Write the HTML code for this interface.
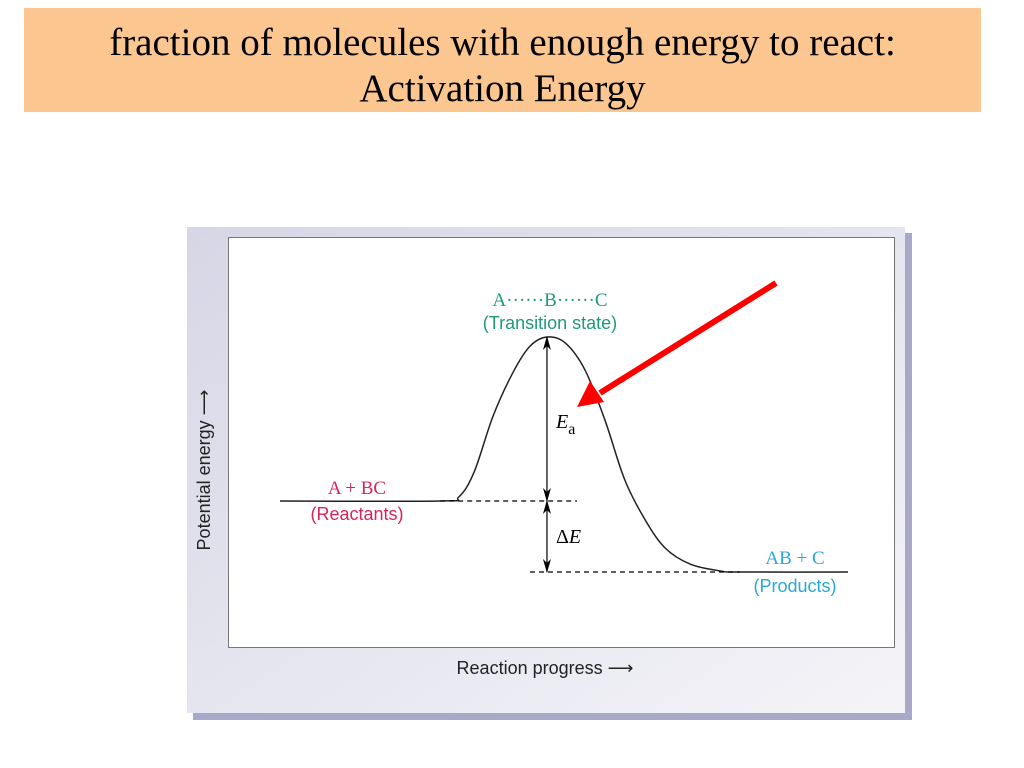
<!DOCTYPE html>
<html><head><meta charset="utf-8"><style>
body{margin:0;width:1024px;height:768px;background:#fff;position:relative;overflow:hidden;font-family:"Liberation Sans",sans-serif}
#title{position:absolute;left:24px;top:8px;width:957px;height:104px;background:#fbc690;font-family:"Liberation Serif",serif;font-size:39px;line-height:46px;text-align:center;padding-top:12px;box-sizing:border-box;color:#000}
</style></head><body>
<div id="title">fraction of molecules with enough energy to react:<br>Activation Energy</div>
<svg id="chart" width="1024" height="768" style="position:absolute;left:0;top:0">
<defs>
<linearGradient id="fr" x1="0" y1="0" x2="1" y2="1"><stop offset="0" stop-color="#d6d6e6"/><stop offset="1" stop-color="#f4f4f8"/></linearGradient>
<marker id="ah" markerWidth="14" markerHeight="8" refX="13" refY="4" orient="auto" markerUnits="userSpaceOnUse" viewBox="0 0 14 8"><path d="M0,0 L14,4 L0,8 L4,4Z" fill="#000"/></marker>
<marker id="as" markerWidth="14" markerHeight="8" refX="1" refY="4" orient="auto" markerUnits="userSpaceOnUse" viewBox="0 0 14 8"><path d="M14,0 L0,4 L14,8 L10,4Z" fill="#000"/></marker>
</defs>
<rect x="193" y="233" width="719" height="487" fill="#a8a8c8"/>
<rect x="187" y="227" width="718" height="486" fill="url(#fr)"/>
<rect x="228.5" y="237.5" width="666" height="410" fill="#fff" stroke="#777"/>
<g id="marks"></g>
<text x="210" y="470" transform="rotate(-90 210 470)" text-anchor="middle" font-size="18" fill="#222">Potential energy ⟶</text>
<text x="545" y="674" text-anchor="middle" font-size="18" fill="#222">Reaction progress ⟶</text>
<text x="550" y="306" text-anchor="middle" font-family="Liberation Serif" font-size="19" fill="#1f9a78">A······B······C</text>
<text x="550" y="329" text-anchor="middle" font-size="18" fill="#1f9a78">(Transition state)</text>
<text x="357" y="494" text-anchor="middle" font-family="Liberation Serif" font-size="19" fill="#d8245a">A + BC</text>
<text x="357" y="520" text-anchor="middle" font-size="18" fill="#d8245a">(Reactants)</text>
<text x="795" y="564" text-anchor="middle" font-family="Liberation Serif" font-size="19" fill="#2aa8d8">AB + C</text>
<text x="795" y="592" text-anchor="middle" font-size="18" fill="#2aa8d8">(Products)</text>
<text x="556" y="428" font-family="Liberation Serif" font-size="20" font-style="italic">E<tspan font-style="normal" font-size="16" dy="6">a</tspan></text>
<text x="556" y="543" font-family="Liberation Serif" font-size="20">Δ<tspan font-style="italic">E</tspan></text>
<line x1="776" y1="283" x2="600" y2="393" stroke="#f00" stroke-width="6"/>
<path d="M577,407 L590,381 L604,402Z" fill="#f00"/>
</svg>
<script>
const progress=[0,28.2,31.5,34.2,37.5,41,44,47,50.2,53.7,57.2,60.7,64.3,67.8,72.2,77.5,81,100];
const energy=[36.9,36.9,38.5,48,69,85.5,95.5,99,96.8,86.5,67.6,44.9,29.7,19.1,13.0,10.4,10,10];
const levels=[36.9,99,10]; // reactant, transition, product
const peakProgress=[47];
function xs(p){return 280+p*5.68;}
function ys(e){return 598.4-e*2.64;}
const g=document.getElementById('marks');const NS='http://www.w3.org/2000/svg';
const pts=progress.map((p,i)=>[xs(p),ys(energy[i])]);
let d='M'+pts[0][0]+','+pts[0][1];
for(let i=0;i<pts.length-1;i++){const p0=pts[Math.max(0,i-1)],p1=pts[i],p2=pts[i+1],p3=pts[Math.min(pts.length-1,i+2)];
d+=' C'+(p1[0]+(p2[0]-p0[0])/6)+','+(p1[1]+(p2[1]-p0[1])/6)+' '+(p2[0]-(p3[0]-p1[0])/6)+','+(p2[1]-(p3[1]-p1[1])/6)+' '+p2[0]+','+p2[1];}
const c=document.createElementNS(NS,'path');c.setAttribute('d',d);c.setAttribute('fill','none');c.setAttribute('stroke','#222');c.setAttribute('stroke-width','1.5');


g.appendChild(c);
function ln(x1,y1,x2,y2,dash,mk){const l=document.createElementNS(NS,'line');l.setAttribute('x1',x1);l.setAttribute('y1',y1);l.setAttribute('x2',x2);l.setAttribute('y2',y2);l.setAttribute('stroke','#000');l.setAttribute('stroke-width','1.2');if(dash)l.setAttribute('stroke-dasharray','5,4');if(mk){l.setAttribute('marker-start','url(#as)');l.setAttribute('marker-end','url(#ah)');}g.appendChild(l);return l;}
const px=xs(peakProgress[0]);
let l1=ln(xs(28.2),ys(levels[0]),577,ys(levels[0]),true);


let l2=ln(530,ys(levels[2]),xs(81),ys(levels[2]),true);


let l3=ln(px,ys(levels[1]),px,ys(levels[0]),false,true);


let l4=ln(px,ys(levels[0]),px,ys(levels[2]),false,true);


</script>
</body></html>
